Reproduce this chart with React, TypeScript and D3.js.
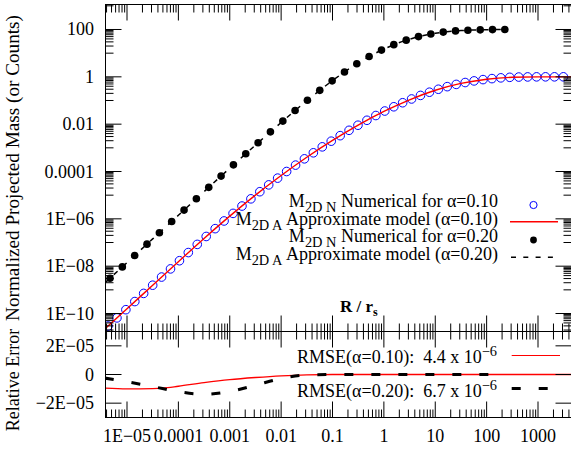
import React from 'react';
import * as d3 from 'd3';

// ---- Numerical data, alpha = 0.10 (blue open circles) ----
const numR010 = [4.27e-6, 6.37e-6, 9.51e-6, 1.42e-5, 2.11e-5, 3.16e-5, 4.71e-5, 7.03e-5, 1.05e-4, 1.56e-4,
  2.33e-4, 3.48e-4, 5.20e-4, 7.75e-4, 1.16e-3, 1.73e-3, 2.58e-3, 3.85e-3, 5.73e-3, 8.55e-3,
  1.28e-2, 1.91e-2, 2.84e-2, 4.24e-2, 6.32e-2, 9.44e-2, 0.141, 0.210, 0.313, 0.468,
  0.698, 1.04, 1.56, 2.32, 3.46, 5.16, 7.71, 11.5, 17.1, 25.6,
  38.2, 57.0, 85.1, 127, 189, 282, 422, 629, 938, 1400, 2090, 3120];
const numM010 = [2.95e-11, 6.53e-11, 1.45e-10, 3.20e-10, 7.08e-10, 1.57e-9, 3.47e-9, 7.67e-9, 1.70e-8, 3.76e-8,
  8.32e-8, 1.80e-7, 3.85e-7, 8.13e-7, 1.70e-6, 3.47e-6, 7.00e-6, 1.40e-5, 2.72e-5, 5.25e-5,
  1.00e-4, 1.86e-4, 3.43e-4, 6.17e-4, 1.10e-3, 1.91e-3, 3.27e-3, 5.50e-3, 9.02e-3, 1.46e-2,
  2.32e-2, 3.59e-2, 5.43e-2, 8.04e-2, 0.116, 0.164, 0.224, 0.299, 0.385, 0.479,
  0.575, 0.673, 0.764, 0.841, 0.906, 0.953, 0.979, 0.991, 0.998, 1.0, 1.0, 1.0];

// ---- Numerical data, alpha = 0.20 (black filled dots, counts) ----
const numR020 = [4.67e-6, 8.11e-6, 1.41e-5, 2.45e-5, 4.27e-5, 7.41e-5, 1.29e-4, 2.24e-4, 3.90e-4, 6.78e-4,
  1.18e-3, 2.05e-3, 3.56e-3, 6.19e-3, 1.08e-2, 1.87e-2, 3.25e-2, 5.65e-2, 9.84e-2, 0.171,
  0.297, 0.516, 0.898, 1.56, 2.72, 4.72, 8.20, 14.3, 24.8, 43.2, 75.0, 130, 226];
const numM020 = [3.09e-9, 9.33e-9, 2.82e-8, 8.51e-8, 2.57e-7, 7.76e-7, 2.34e-6, 7.08e-6, 2.14e-5, 6.38e-5,
  1.91e-4, 5.62e-4, 1.64e-3, 4.73e-3, 1.35e-2, 3.76e-2, 0.102, 0.269, 0.676, 1.60,
  3.55, 7.24, 13.5, 22.9, 35.5, 50.1, 64.6, 77.6, 87.1, 93.3, 96.6, 98.9, 100];

// ---- Approximate model curves ----
const modelR010 = [3.7e-6, 1e-5, 3.16e-5, 1e-4, 3.16e-4, 1e-3, 3.16e-3, 1e-2, 3.16e-2, 0.1,
  0.316, 1, 3.16, 10, 31.6, 100, 316, 1000, 4500];
const modelM010 = [2.24e-11, 1.58e-10, 1.58e-9, 1.55e-8, 1.48e-7, 1.30e-6, 1.00e-5, 6.76e-5, 4.00e-4, 2.06e-3,
  9.12e-3, 3.43e-2, 0.107, 0.270, 0.527, 0.794, 0.959, 0.998, 1.0];
const modelR020 = [3.7e-6, 1e-5, 3.16e-5, 1e-4, 3.16e-4, 1e-3, 3.16e-3, 1e-2, 3.16e-2, 0.1,
  0.316, 1, 3.16, 10, 31.6, 100, 226];
const modelM020 = [1.95e-9, 1.42e-8, 1.42e-7, 1.41e-6, 1.41e-5, 1.38e-4, 1.30e-3, 1.17e-2, 9.73e-2, 0.693,
  3.85, 14.9, 38.9, 69.0, 89.7, 97.7, 100];

// ---- Relative error ----
const errR010 = [3.7e-6, 1e-5, 3.16e-5, 5.0e-5, 1e-4, 3.16e-4, 1e-3, 3.16e-3, 1e-2, 3.16e-2, 0.1, 1, 10, 100, 1000, 4500];
const errV010 = [-0.95e-5, -1.0e-5, -0.98e-5, -0.95e-5, -0.82e-5, -0.57e-5, -0.36e-5, -0.21e-5, -0.09e-5, -0.02e-5, 0, 0, 0, 0, 0, 0];
const errR020 = [3.7e-6, 1e-5, 3.16e-5, 1e-4, 3.16e-4, 1e-3, 3.16e-3, 1e-2, 3.16e-2, 0.1, 1, 10, 100, 226];
const errV020 = [-0.25e-5, -0.51e-5, -0.84e-5, -1.20e-5, -1.38e-5, -1.18e-5, -0.75e-5, -0.28e-5, -0.03e-5, 0, 0, 0, 0, 0];

// ---- Ticks ----
const xTickValues = [1e-5, 1e-4, 1e-3, 1e-2, 1e-1, 1, 10, 100, 1000];
const xTickLabels = ['1E\u221205', '0.0001', '0.001', '0.01', '0.1', '1', '10', '100', '1000'];
const yTopTickValues = [100, 1, 0.01, 1e-4, 1e-6, 1e-8, 1e-10];
const yTopTickLabels = ['100', '1', '0.01', '0.0001', '1E\u221206', '1E\u221208', '1E\u221210'];
const yBotTickValues = [2e-5, 0, -2e-5];
const yBotTickLabels = ['2E\u221205', '0', '\u22122E\u221205'];

const FONT = '"Liberation Serif", "Times New Roman", serif';
const NB = '\u00a0';

export default function App() {
  const W = 571, H = 450;
  const L = 105.5, R = 571.5;
  const T1 = 4.5, B1 = 331.5, T2 = 331.5, B2 = 417.5;
  const MAJ = 16, MIN = 8;

  const x = d3.scaleLog().domain([Math.pow(10, -5.4185), Math.pow(10, 3.652)]).range([L, R]);
  const yTop = d3.scaleLog().domain([Math.pow(10, -10.76), Math.pow(10, 3.056)]).range([B1, T1]);
  const yBot = d3.scaleLinear().domain([-3e-5, 3e-5]).range([B2, T2]);

  const [xd0, xd1] = x.domain();
  const xMinor: number[] = [];
  for (let k = -6; k <= 3; k++) for (let m = 2; m <= 9; m++) {
    const v = m * Math.pow(10, k);
    if (v > xd0 && v < xd1) xMinor.push(v);
  }
  const [yd0, yd1] = yTop.domain();
  const yMinor: number[] = [];
  for (let k = -11; k <= 3; k += 2) for (let m = 1; m <= 9; m++) {
    const v = m * Math.pow(10, k);
    if (v > yd0 && v < yd1) yMinor.push(v);
  }

  const zip = (rs: number[], ms: number[]) => rs.map((r, i) => [r, ms[i]] as [number, number]);
  const lineTop = d3.line<[number, number]>().x(d => x(d[0])).y(d => yTop(d[1])).curve(d3.curveMonotoneX);
  const lineBot = d3.line<[number, number]>().x(d => x(d[0])).y(d => yBot(d[1])).curve(d3.curveMonotoneX);

  const tickLine = (key: string, x1: number, y1: number, x2: number, y2: number) => (
    <line key={key} x1={x1} y1={y1} x2={x2} y2={y2} stroke="#000" strokeWidth={1} />
  );

  const ticks: React.ReactNode[] = [];
  xTickValues.forEach((v, i) => {
    const px = x(v);
    ticks.push(tickLine('xt1' + i, px, T1, px, T1 + MAJ));
    ticks.push(tickLine('xb1' + i, px, B1, px, B1 - MAJ));
    ticks.push(tickLine('xt2' + i, px, T2, px, T2 + MAJ));
    ticks.push(tickLine('xb2' + i, px, B2, px, B2 - MAJ));
  });
  xMinor.forEach((v, i) => {
    const px = x(v);
    ticks.push(tickLine('mxt1' + i, px, T1, px, T1 + MIN));
    ticks.push(tickLine('mxb1' + i, px, B1, px, B1 - MIN));
    ticks.push(tickLine('mxt2' + i, px, T2, px, T2 + MIN));
    ticks.push(tickLine('mxb2' + i, px, B2, px, B2 - MIN));
  });
  yTopTickValues.forEach((v, i) => {
    const py = yTop(v);
    ticks.push(tickLine('yl' + i, L, py, L + MAJ, py));
    ticks.push(tickLine('yr' + i, R, py, R - MAJ, py));
  });
  yMinor.forEach((v, i) => {
    const py = yTop(v);
    ticks.push(tickLine('myl' + i, L, py, L + MIN, py));
    ticks.push(tickLine('myr' + i, R, py, R - MIN, py));
  });
  yBotTickValues.forEach((v, i) => {
    const py = yBot(v);
    ticks.push(tickLine('bl' + i, L, py, L + MAJ, py));
    ticks.push(tickLine('br' + i, R, py, R - MAJ, py));
  });

  const SUB = 14.4;

  const legendRow = (y: number, sub: string, rest: string) => (
    <text x={498} y={y} textAnchor="end">{'M'}<tspan dy={5} fontSize={SUB}>{sub}</tspan><tspan dy={-5}>{rest}</tspan></text>
  );

  return (
    <svg width={W} height={H} viewBox={`0 0 ${W} ${H}`}
      style={{ position: 'absolute', left: 0, top: 0, background: '#fff' }}
      fontFamily={FONT}>
      <defs>
        <clipPath id="clipTop"><rect x={L} y={T1} width={R - L} height={B1 - T1} /></clipPath>
        <clipPath id="clipBot"><rect x={L} y={T2} width={R - L} height={B2 - T2} /></clipPath>
      </defs>
      <rect x={0} y={0} width={W} height={H} fill="#fff" />

      <g clipPath="url(#clipTop)">
        {numR010.map((r, i) => (
          <circle key={'b' + i} cx={x(r)} cy={yTop(numM010[i])} r={4.3} fill="none" stroke="#0000ff" strokeWidth={1} />
        ))}
        <path d={lineTop(zip(modelR010, modelM010)) || ''} fill="none" stroke="#ff0000" strokeWidth={1.4} />
        {numR020.map((r, i) => (
          <circle key={'k' + i} cx={x(r)} cy={yTop(numM020[i])} r={3.8} fill="#000" />
        ))}
        <path d={lineTop(zip(modelR020, modelM020)) || ''} fill="none" stroke="#000" strokeWidth={1.5} strokeDasharray="5,7.3" />
      </g>

      <g clipPath="url(#clipBot)">
        <path d={lineBot(zip(errR010, errV010)) || ''} fill="none" stroke="#ff0000" strokeWidth={1.3} />
        <path d={lineBot(zip(errR020, errV020)) || ''} fill="none" stroke="#000" strokeWidth={3} strokeDasharray="9,18" />
      </g>

      {ticks}
      <rect x={L} y={T1} width={R - L} height={B1 - T1} fill="none" stroke="#000" strokeWidth={1} />
      <rect x={L} y={T2} width={R - L} height={B2 - T2} fill="none" stroke="#000" strokeWidth={1} />

      <g fontSize={18} fill="#000">
        {yTopTickValues.map((v, i) => (
          <text key={'ytl' + i} x={94} y={yTop(v) + 6} textAnchor="end">{yTopTickLabels[i]}</text>
        ))}
        {yBotTickValues.map((v, i) => (
          <text key={'ybl' + i} x={94} y={yBot(v) + 6} textAnchor="end">{yBotTickLabels[i]}</text>
        ))}
        {xTickValues.map((v, i) => (
          <text key={'xl' + i} x={x(v)} y={442} textAnchor="middle">{xTickLabels[i]}</text>
        ))}
      </g>

      <text transform="translate(18.5,168) rotate(-90)" textAnchor="middle" fontSize={19.2}>Normalized Projected Mass (or Counts)</text>
      <text transform="translate(18.5,380) rotate(-90)" textAnchor="middle" fontSize={18}>Relative Error</text>
      <text x={340} y={312} fontSize={17} fontWeight="bold">{'R / r'}<tspan dy={4} fontSize={12}>s</tspan></text>

      <g fontSize={18}>
        {legendRow(207, '2D N', ' Numerical for \u03b1=0.10')}
        {legendRow(224.5, '2D A', ' Approximate model (\u03b1=0.10)')}
        {legendRow(242, '2D N', ' Numerical for \u03b1=0.20')}
        {legendRow(259.5, '2D A', ' Approximate model (\u03b1=0.20)')}
      </g>
      <circle cx={533.5} cy={205} r={3.6} fill="none" stroke="#0000ff" strokeWidth={1} />
      <line x1={510} y1={221.7} x2={558} y2={221.7} stroke="#ff0000" strokeWidth={1.4} />
      <circle cx={533.5} cy={240} r={3.4} fill="#000" />
      <line x1={511} y1={257.3} x2={560} y2={257.3} stroke="#000" strokeWidth={1.5} strokeDasharray="5,7.3" />

      <g fontSize={18}>
        <text x={497} y={363} textAnchor="end">{'RMSE(\u03b1=0.10):' + NB + ' 4.4 x 10'}<tspan dy={-7} fontSize={SUB}>{'\u22126'}</tspan></text>
        <text x={497} y={397} textAnchor="end">{'RMSE(\u03b1=0.20):' + NB + ' 6.7 x 10'}<tspan dy={-7} fontSize={SUB}>{'\u22126'}</tspan></text>
      </g>
      <line x1={511.7} y1={355.5} x2={560} y2={355.5} stroke="#ff0000" strokeWidth={1.2} />
      <line x1={511.7} y1={388.5} x2={560} y2={388.5} stroke="#000" strokeWidth={3} strokeDasharray="9,18" />
    </svg>
  );
}
